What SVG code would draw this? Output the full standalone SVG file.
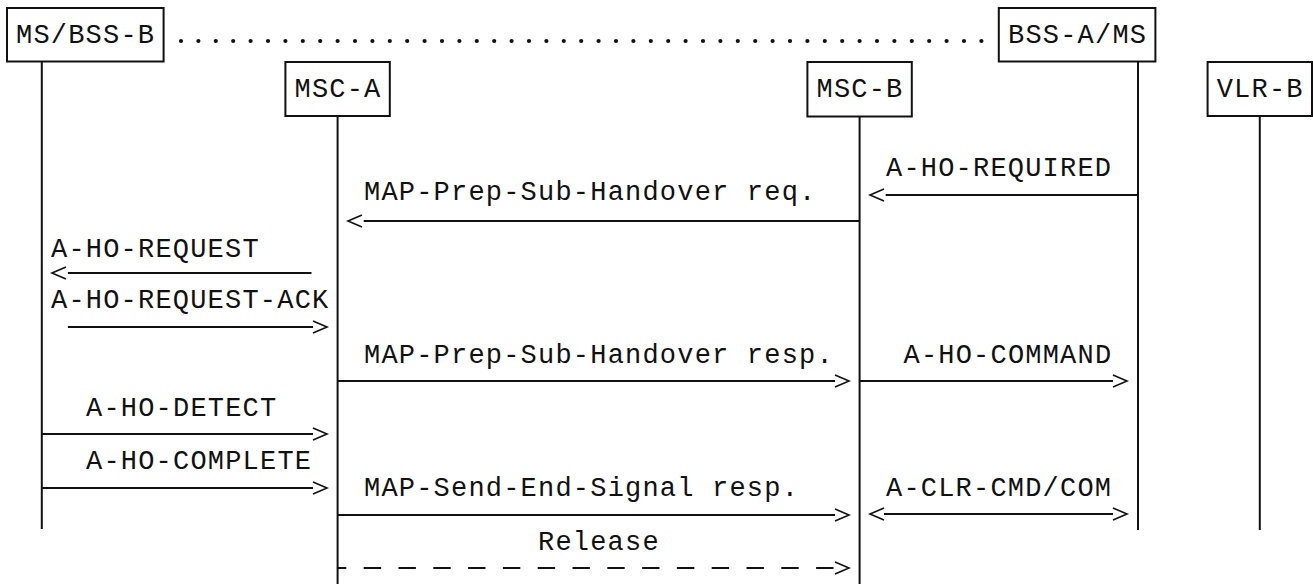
<svg xmlns="http://www.w3.org/2000/svg" width="1313" height="584" viewBox="0 0 1313 584">
<style>
text{font-family:"Liberation Mono","DejaVu Sans Mono",monospace;font-size:27px;letter-spacing:1.2px;fill:#111}
.box{fill:#fff;stroke:#111;stroke-width:2}
.life{stroke:#111;stroke-width:2;fill:none}
.msg{stroke:#111;stroke-width:2;fill:none}
.head{stroke:#111;stroke-width:1.6;fill:none;stroke-linejoin:miter}
.dash{stroke:#111;stroke-width:2;fill:none;stroke-dasharray:17.4 17.4}
.dots{stroke:#111;stroke-width:4.2;stroke-linecap:round;stroke-dasharray:0 17.4;fill:none}
</style>
<rect width="1313" height="584" fill="#fff"/>
<g id="lifelines">
<line class="life" x1="41.8" y1="61" x2="41.8" y2="529"/>
<line class="life" x1="337.6" y1="116" x2="337.6" y2="584"/>
<line class="life" x1="859.6" y1="117" x2="859.6" y2="584"/>
<line class="life" x1="1138" y1="62" x2="1138" y2="530"/>
<line class="life" x1="1259.8" y1="116" x2="1259.8" y2="530"/>
</g>
<g id="node-ms-bss-b"><rect class="box" x="7" y="8" width="156.6" height="53.5"/><text x="16" y="43">MS/BSS-B</text></g>
<g id="node-bss-a-ms"><rect class="box" x="998.8" y="8" width="156.6" height="53.5"/><text x="1008" y="43">BSS-A/MS</text></g>
<g id="node-msc-a"><rect class="box" x="285.4" y="62" width="104.4" height="54"/><text x="294.5" y="97">MSC-A</text></g>
<g id="node-msc-b"><rect class="box" x="807.4" y="62" width="104.4" height="54.5"/><text x="816.5" y="97">MSC-B</text></g>
<g id="node-vlr-b"><rect class="box" x="1207.6" y="62" width="104.4" height="54"/><text x="1216.7" y="97">VLR-B</text></g>
<g id="connectors">
<line class="dots" x1="181" y1="41" x2="982" y2="41"/>
<line class="msg" x1="885.7" y1="195" x2="1138" y2="195"/>
<polyline class="head" points="884,189 870,195 884,201"/>
<line class="msg" x1="363.7" y1="221" x2="859.6" y2="221"/>
<polyline class="head" points="362,215 348,221 362,227"/>
<line class="msg" x1="67.9" y1="273" x2="311.5" y2="273"/>
<polyline class="head" points="66,267 52,273 66,279"/>
<line class="msg" x1="67.9" y1="327" x2="313" y2="327"/>
<polyline class="head" points="313,321 327,327 313,333"/>
<line class="msg" x1="337.6" y1="381" x2="835" y2="381"/>
<polyline class="head" points="835,375 849,381 835,387"/>
<line class="msg" x1="859.6" y1="381" x2="1113" y2="381"/>
<polyline class="head" points="1113,375 1127,381 1113,387"/>
<line class="msg" x1="41.8" y1="434" x2="313" y2="434"/>
<polyline class="head" points="313,428 327,434 313,440"/>
<line class="msg" x1="41.8" y1="488" x2="313" y2="488"/>
<polyline class="head" points="313,482 327,488 313,494"/>
<line class="msg" x1="337.6" y1="515" x2="835" y2="515"/>
<polyline class="head" points="835,509 849,515 835,521"/>
<line class="msg" x1="884" y1="514" x2="1113" y2="514"/>
<polyline class="head" points="884,508 870,514 884,520"/>
<polyline class="head" points="1113,508 1127,514 1113,520"/>
<line class="msg" x1="337.6" y1="568" x2="346.3" y2="568"/>
<line class="dash" x1="363.7" y1="568" x2="835" y2="568"/>
<polyline class="head" points="835,562 849,568 835,574"/>
</g>
<g id="labels">
<text x="886" y="176">A-HO-REQUIRED</text>
<text x="364" y="200">MAP-Prep-Sub-Handover req.</text>
<text x="51" y="257">A-HO-REQUEST</text>
<text x="51" y="308">A-HO-REQUEST-ACK</text>
<text x="364" y="363">MAP-Prep-Sub-Handover resp.</text>
<text x="903.5" y="363">A-HO-COMMAND</text>
<text x="86" y="416">A-HO-DETECT</text>
<text x="86" y="469">A-HO-COMPLETE</text>
<text x="364" y="496">MAP-Send-End-Signal resp.</text>
<text x="886" y="496">A-CLR-CMD/COM</text>
<text x="538" y="550">Release</text>
</g>
</svg>
